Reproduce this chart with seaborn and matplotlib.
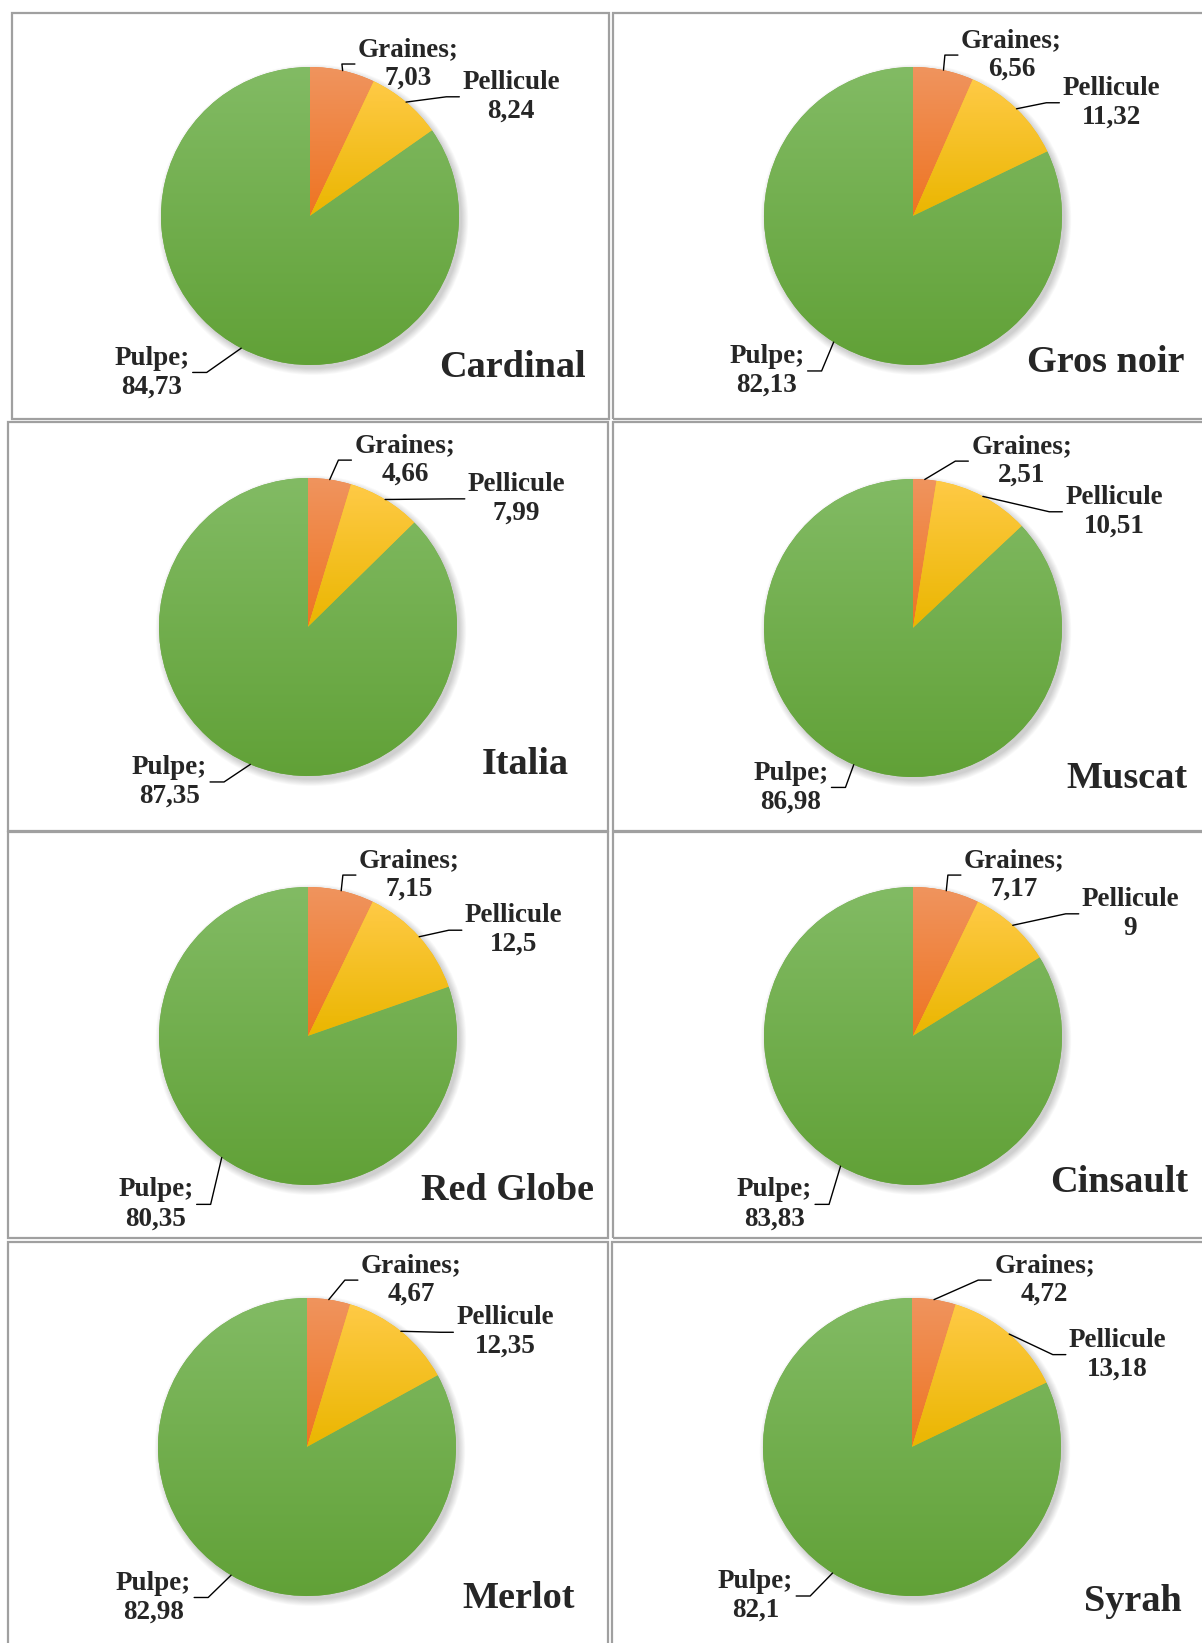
import numpy as np
import matplotlib
matplotlib.use("Agg")
import matplotlib.pyplot as plt
import seaborn as sns
from matplotlib.patches import Rectangle, Circle

# Données : composition des baies (%)
varietes = ['Cardinal', 'Gros noir', 'Italia', 'Muscat',
            'Red Globe', 'Cinsault', 'Merlot', 'Syrah']
graines = [7.03, 6.56, 4.66, 2.51, 7.15, 7.17, 4.67, 4.72]
pellicule = [8.24, 11.32, 7.99, 10.51, 12.5, 9, 12.35, 13.18]
pulpe = [84.73, 82.13, 87.35, 86.98, 80.35, 83.83, 82.98, 82.1]
parties = ['Graines;', 'Pellicule', 'Pulpe;']

# Mise en page (pixels, origine en haut à gauche)
W, H = 1202, 1643
R = 149.0
panneaux = [(11.5, 12.5, 608.5, 418.5), (613, 12.5, 1215, 418.5),
            (8, 422, 607.5, 830.5), (613, 422, 1215, 830.5),
            (8, 832, 607.5, 1238), (613, 832, 1215, 1238),
            (8, 1242, 607.5, 1660), (612, 1242, 1215, 1660)]
centres = [(310, 216), (913, 216), (308, 627), (913, 628),
           (308, 1036), (913, 1036), (307, 1447), (912, 1447)]
# positions des étiquettes en rayons du camembert
pos_graines = [(0.66, 1.02), (0.66, 1.08), (0.65, 1.12), (0.73, 1.12),
               (0.68, 1.08), (0.68, 1.08), (0.70, 1.12), (0.89, 1.12)]
pos_pellicule = [(1.35, 0.80), (1.33, 0.76), (1.40, 0.86), (1.35, 0.78),
                 (1.38, 0.71), (1.46, 0.82), (1.33, 0.77), (1.38, 0.62)]
pos_pulpe = [(-1.06, -1.05), (-0.98, -1.04), (-0.93, -1.04), (-0.82, -1.07),
             (-1.02, -1.13), (-0.93, -1.13), (-1.03, -1.01), (-1.05, -1.00)]
pos_titre = [(1.85, -1.02), (1.82, -0.98), (1.75, -0.92), (1.84, -1.01),
             (1.92, -1.04), (1.85, -0.98), (1.80, -1.02), (1.81, -1.04)]

# dégradés (haut -> bas) à la manière d'Excel
degrades = [((240, 148, 94), (238, 116, 34)),
            ((255, 202, 70), (234, 182, 0)),
            ((130, 187, 100), (97, 161, 55))]
base = ['#ED7D31', '#FFC000', '#70AD47']

sns.set_style("white")
plt.rcParams['font.family'] = ['Liberation Serif', 'DejaVu Serif']

fig = plt.figure(figsize=(W / 100, H / 100), dpi=100)


def fmt(v):
    return f'{v:g}'.replace('.', ',')


axes = []
for i, nom in enumerate(varietes):
    x0, y0, x1, y1 = panneaux[i]
    cx, cy = centres[i]
    fig.add_artist(Rectangle((x0 / W, 1 - y1 / H), (x1 - x0) / W, (y1 - y0) / H,
                             transform=fig.transFigure, fill=False,
                             edgecolor='#A0A0A0', linewidth=1.6))
    ax = fig.add_axes([x0 / W, 1 - y1 / H, (x1 - x0) / W, (y1 - y0) / H])
    vals = [graines[i], pellicule[i], pulpe[i]]
    wedges, _ = ax.pie(vals, colors=base, startangle=90, counterclock=False,
                       radius=1, center=(0, 0),
                       wedgeprops=dict(linewidth=0, zorder=1))
    # ombre douce
    for k in range(8):
        ax.add_patch(Circle((0.02, -0.025), 1.0 + 0.006 * k, color='black',
                            alpha=0.025, linewidth=0, zorder=0.5))
    for w, (haut, bas) in zip(wedges, degrades):
        bb = w.get_path().get_extents()
        t = np.linspace(0, 1, 200)[:, None]
        grad = (np.array(haut)[None, :] * (1 - t) + np.array(bas)[None, :] * t) / 255
        im = ax.imshow(grad[:, None, :], extent=(bb.x0, bb.x1, bb.y0, bb.y1),
                       origin='upper', aspect='auto', zorder=1.5,
                       interpolation='bilinear')
        im.set_clip_path(w)
    # étiquettes
    etiquettes = []
    for part, v, pos in zip(parties, vals, [pos_graines[i], pos_pellicule[i], pos_pulpe[i]]):
        tx = ax.text(pos[0], pos[1], f'{part}\n{fmt(v)}', ha='center', va='center',
                     fontsize=19.5, fontweight='bold', linespacing=1.2,
                     multialignment='center', zorder=5)
        etiquettes.append(tx)
    ax.text(pos_titre[i][0], pos_titre[i][1], nom, ha='right', va='center',
            fontsize=27.5, fontweight='bold', zorder=5)
    ax.set_xlim((x0 - cx) / R, (x1 - cx) / R)
    ax.set_ylim((cy - y1) / R, (cy - y0) / R)
    ax.set_aspect('auto')
    ax.axis('off')
    axes.append((ax, wedges, etiquettes))

fig.canvas.draw()
rend = fig.canvas.get_renderer()
for ax, wedges, etiquettes in axes:
    inv = ax.transData.inverted()
    for j, (w, tx) in enumerate(zip(wedges, etiquettes)):
        a = np.deg2rad((w.theta1 + w.theta2) / 2)
        sx, sy = ax.transData.transform((np.cos(a), np.sin(a)))
        bb = tx.get_window_extent(rend)
        yl = bb.y1 - bb.height * 0.5
        if j < 2:
            ex, kx = bb.x0 - 3, bb.x0 - 16
        else:
            ex, kx = bb.x1 + 3, bb.x1 + 17
        pts = inv.transform([(sx, sy), (kx, yl), (ex, yl)])
        ax.plot(pts[:, 0], pts[:, 1], color='black', linewidth=1.0, zorder=4)

fig.savefig('out.png', dpi=100)
